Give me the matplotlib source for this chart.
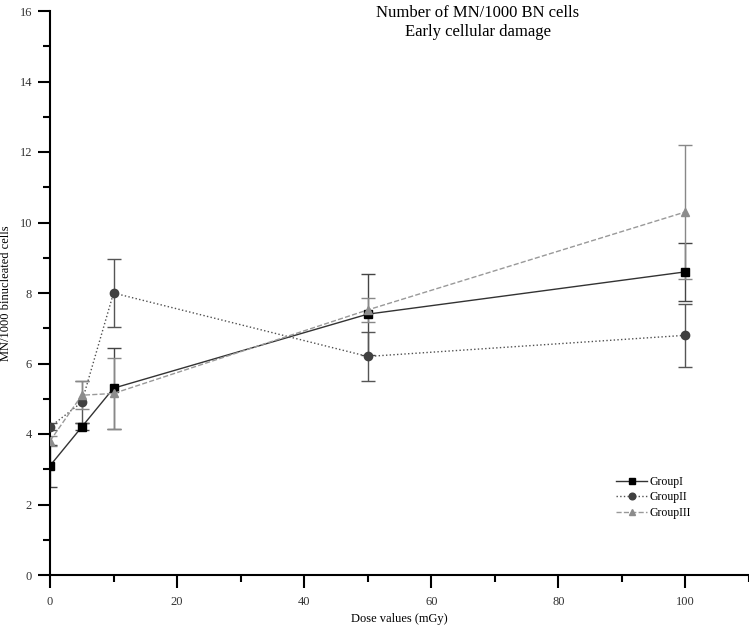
import numpy as np
import matplotlib.pyplot as plt
from matplotlib.ticker import MultipleLocator

plt.rcParams['font.family'] = ['Liberation Serif', 'DejaVu Serif']

dose = [0, 5, 10, 50, 100]
g1 = [3.1, 4.2, 5.3, 7.4, 8.6]
g1_err = [0.6, 0.1, 1.15, 1.15, 0.83]
g2 = [4.2, 4.9, 8.0, 6.2, 6.8]
g2_err = [0.1, 0.6, 0.97, 0.7, 0.9]
g3 = [3.8, 5.1, 5.15, 7.52, 10.3]
g3_err = [0.15, 0.4, 1.0, 0.35, 1.9]
labels = ["GroupI", "GroupII", "GroupIII"]

fig = plt.figure(figsize=(7.49, 6.28), dpi=100)
ax = fig.add_axes([50 / 749, 53 / 628, 699 / 749, 564 / 628])

styles = [
    (g1, g1_err, "s", "-", "#000000", "#333333", "#444444"),
    (g2, g2_err, "o", ":", "#404040", "#505050", "#555555"),
    (g3, g3_err, "^", "--", "#8c8c8c", "#999999", "#888888"),
]
for (vals, err, mk, ls, mc, lc, ec), lab in zip(styles, labels):
    ax.errorbar(dose, vals, yerr=err, fmt="none", ecolor=ec, elinewidth=1.0,
                capsize=5, capthick=1.0, zorder=2)
    ax.plot(dose, vals, linestyle=ls, color=lc, linewidth=1.0, marker=mk,
            markersize=6, markerfacecolor=mc, markeredgecolor=mc, label=lab, zorder=3)

ax.set_xlim(0, 110)
ax.set_ylim(0, 16)
ax.xaxis.set_major_locator(MultipleLocator(20))
ax.xaxis.set_minor_locator(MultipleLocator(10))
ax.yaxis.set_major_locator(MultipleLocator(2))
ax.yaxis.set_minor_locator(MultipleLocator(1))
ax.set_xticks([0, 20, 40, 60, 80, 100])
ax.spines['top'].set_visible(False)
ax.spines['right'].set_visible(False)
for s in ['left', 'bottom']:
    ax.spines[s].set_linewidth(1.5)
ax.tick_params(which='major', direction='out', length=9, width=1.5,
               labelsize=9, labelcolor='#333333')
ax.tick_params(which='minor', direction='out', length=5, width=1.5)
ax.tick_params(axis='y', pad=4)
ax.tick_params(axis='x', pad=6)

ax.set_xlabel("Dose values (mGy)", fontsize=9)
ax.set_ylabel("MN/1000 binucleated cells", fontsize=9)
ax.xaxis.set_label_coords(0.5, -0.068)
ax.yaxis.set_label_coords(-0.054, 0.5)

fig.text(478 / 749, 1 - 5 / 628, "Number of MN/1000 BN cells\nEarly cellular damage",
         ha='center', va='top', fontsize=12, linespacing=1.25)

leg = ax.legend(loc='upper left', bbox_to_anchor=(0.795, 0.195), frameon=False,
                fontsize=8.5, handlelength=2.6, handletextpad=0.2, labelspacing=0.3,
                markerscale=0.8)

fig.savefig("out.png", dpi=100)
